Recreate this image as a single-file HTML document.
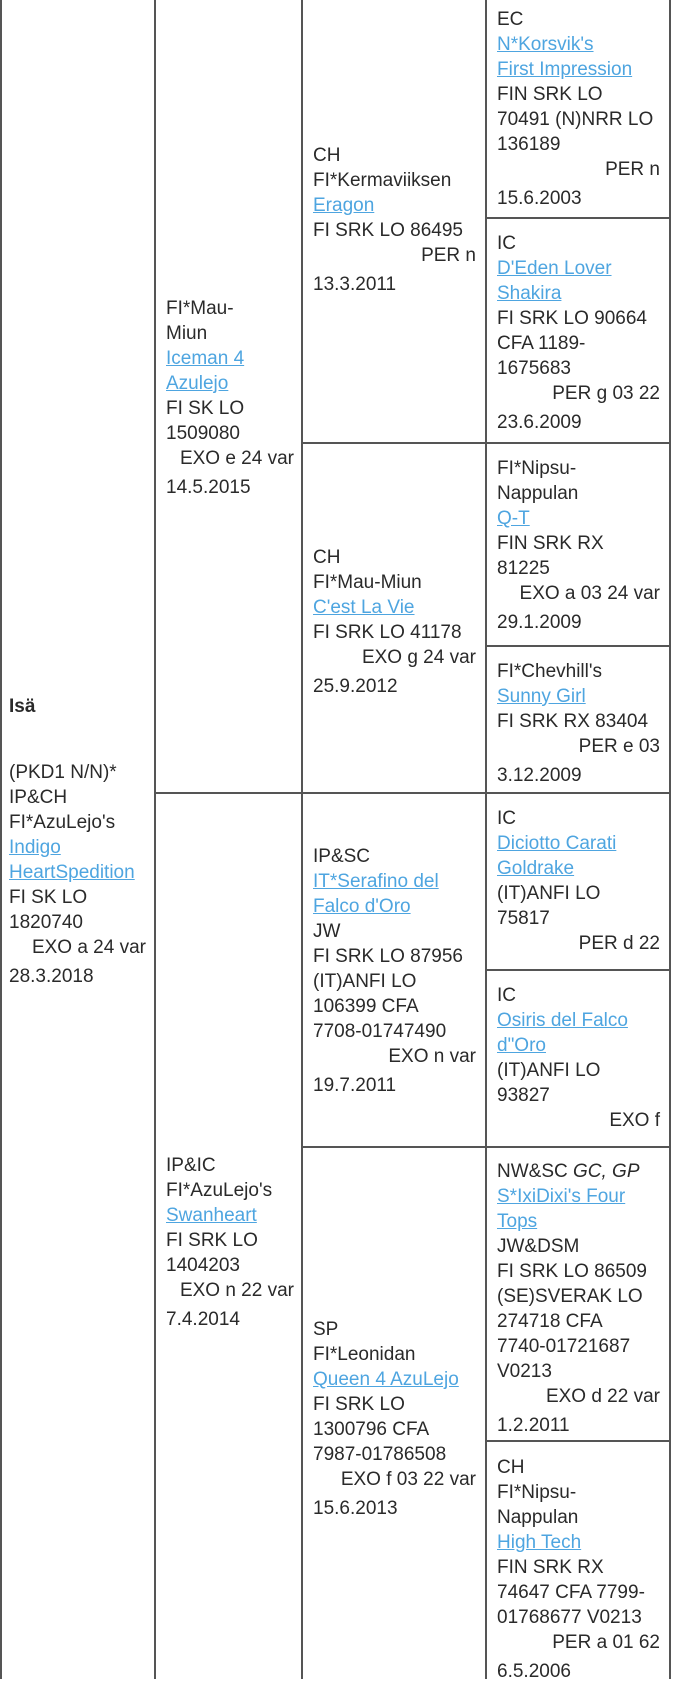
<!DOCTYPE html>
<html><head><meta charset="utf-8"><style>
html,body{margin:0;padding:0;background:#fff;}
body{width:691px;height:1679px;position:relative;overflow:hidden;font-family:"Liberation Sans",Arial,sans-serif;font-size:19px;color:#2a2a2a;}
.v{position:absolute;top:0;height:1679px;width:2px;background:#555;}
.h{position:absolute;height:2px;background:#555;}
.c{position:absolute;line-height:25px;white-space:nowrap;}
.c a{color:#4ea5e0;text-decoration:underline;}
.r{text-align:right;}
.d{margin-top:4px;}
</style></head><body>
<div class="v" style="left:0"></div>
<div class="v" style="left:154px"></div>
<div class="v" style="left:301px"></div>
<div class="v" style="left:485px"></div>
<div class="v" style="left:669px"></div>

<div class="h" style="left:154px;width:517px;top:792px"></div>
<div class="h" style="left:301px;width:370px;top:442px"></div>
<div class="h" style="left:301px;width:370px;top:1146px"></div>
<div class="h" style="left:485px;width:186px;top:217px"></div>
<div class="h" style="left:485px;width:186px;top:645px"></div>
<div class="h" style="left:485px;width:186px;top:969px"></div>
<div class="h" style="left:485px;width:186px;top:1440px"></div>

<!-- col1 -->
<div class="c" style="left:9px;top:694px;font-weight:bold">Isä</div>
<div class="c" style="left:9px;width:137px;top:760px">(PKD1 N/N)*<br>IP&amp;CH<br>FI*AzuLejo's<br><a>Indigo</a><br><a>HeartSpedition</a><br>FI SK LO<br>1820740<div class="r">EXO a 24 var</div><div class="d">28.3.2018</div></div>

<!-- col2 -->
<div class="c" style="left:166px;width:128px;top:296px">FI*Mau-<br>Miun<br><a>Iceman 4</a><br><a>Azulejo</a><br>FI SK LO<br>1509080<div class="r">EXO e 24 var</div><div class="d">14.5.2015</div></div>
<div class="c" style="left:166px;width:128px;top:1153px">IP&amp;IC<br>FI*AzuLejo's<br><a>Swanheart</a><br>FI SRK LO<br>1404203<div class="r">EXO n 22 var</div><div class="d">7.4.2014</div></div>

<!-- col3 -->
<div class="c" style="left:313px;width:163px;top:143px">CH<br>FI*Kermaviiksen<br><a>Eragon</a><br>FI SRK LO 86495<div class="r">PER n</div><div class="d">13.3.2011</div></div>
<div class="c" style="left:313px;width:163px;top:545px">CH<br>FI*Mau-Miun<br><a>C'est La Vie</a><br>FI SRK LO 41178<div class="r">EXO g 24 var</div><div class="d">25.9.2012</div></div>
<div class="c" style="left:313px;width:163px;top:844px">IP&amp;SC<br><a>IT*Serafino del</a><br><a>Falco d'Oro</a><br>JW<br>FI SRK LO 87956<br>(IT)ANFI LO<br>106399 CFA<br>7708-01747490<div class="r">EXO n var</div><div class="d">19.7.2011</div></div>
<div class="c" style="left:313px;width:163px;top:1317px">SP<br>FI*Leonidan<br><a>Queen 4 AzuLejo</a><br>FI SRK LO<br>1300796 CFA<br>7987-01786508<div class="r">EXO f 03 22 var</div><div class="d">15.6.2013</div></div>

<!-- col4 -->
<div class="c" style="left:497px;width:163px;top:7px">EC<br><a>N*Korsvik's</a><br><a>First Impression</a><br>FIN SRK LO<br>70491 (N)NRR LO<br>136189<div class="r">PER n</div><div class="d">15.6.2003</div></div>
<div class="c" style="left:497px;width:163px;top:231px">IC<br><a>D'Eden Lover</a><br><a>Shakira</a><br>FI SRK LO 90664<br>CFA 1189-<br>1675683<div class="r">PER g 03 22</div><div class="d">23.6.2009</div></div>
<div class="c" style="left:497px;width:163px;top:456px">FI*Nipsu-<br>Nappulan<br><a>Q-T</a><br>FIN SRK RX<br>81225<div class="r">EXO a 03 24 var</div><div class="d">29.1.2009</div></div>
<div class="c" style="left:497px;width:163px;top:659px">FI*Chevhill's<br><a>Sunny Girl</a><br>FI SRK RX 83404<div class="r">PER e 03</div><div class="d">3.12.2009</div></div>
<div class="c" style="left:497px;width:163px;top:806px">IC<br><a>Diciotto Carati</a><br><a>Goldrake</a><br>(IT)ANFI LO<br>75817<div class="r">PER d 22</div></div>
<div class="c" style="left:497px;width:163px;top:983px">IC<br><a>Osiris del Falco</a><br><a>d"Oro</a><br>(IT)ANFI LO<br>93827<div class="r">EXO f</div></div>
<div class="c" style="left:497px;width:163px;top:1159px">NW&amp;SC <i>GC, GP</i><br><a>S*IxiDixi's Four</a><br><a>Tops</a><br>JW&amp;DSM<br>FI SRK LO 86509<br>(SE)SVERAK LO<br>274718 CFA<br>7740-01721687<br>V0213<div class="r">EXO d 22 var</div><div class="d">1.2.2011</div></div>
<div class="c" style="left:497px;width:163px;top:1455px">CH<br>FI*Nipsu-<br>Nappulan<br><a>High Tech</a><br>FIN SRK RX<br>74647 CFA 7799-<br>01768677 V0213<div class="r">PER a 01 62</div><div class="d">6.5.2006</div></div>
</body></html>
